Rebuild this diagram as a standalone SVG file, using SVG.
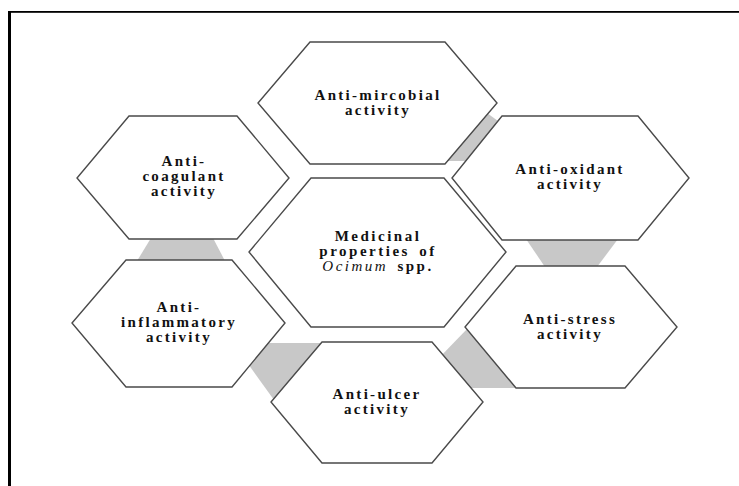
<svg xmlns="http://www.w3.org/2000/svg" width="739" height="486" viewBox="0 0 739 486">
<style>
.hex{fill:#ffffff;stroke:#4a4a4a;stroke-width:1.4;stroke-linejoin:miter}
.link{fill:#c8c8c8;stroke:none}
.lbl{font-family:"Liberation Serif","Times New Roman",serif;font-weight:bold;font-size:15px;letter-spacing:2.3px;fill:#111111;text-anchor:middle}
.ctr{letter-spacing:2.5px}
.it{font-style:italic;font-weight:normal}
</style>
<rect x="0" y="0" width="739" height="486" fill="#ffffff"/>
<g id="frame">
<rect x="8" y="11" width="731" height="1.8" fill="#000000"/>
<rect x="8" y="11" width="3" height="475" fill="#000000"/>
</g>
<g id="connectors">
<polygon class="link" points="478,113 487,113 498,121 467,161 440,161"/>
<polygon class="link" points="151,238 213,238 225,261 137,261"/>
<polygon class="link" points="526,239 618,239 597,267 545,267"/>
<polygon class="link" points="233,343 324,343 274,400"/>
<polygon class="link" points="468,328 437,360 460,388 517,388"/>
</g>
<g id="node-antimicrobial">
<polygon class="hex" points="310,42 445,42 497,103 445,164 310,164 258,103"/>
<text class="lbl" x="378" y="99.5">Anti-mircobial</text>
<text class="lbl" x="378" y="114.5">activity</text>
</g>
<g id="node-anticoagulant">
<polygon class="hex" points="129,116 237,116 289,178 237,239 129,239 77,178"/>
<text class="lbl" x="184" y="166">Anti-</text>
<text class="lbl" x="184" y="181">coagulant</text>
<text class="lbl" x="184" y="196">activity</text>
</g>
<g id="node-antioxidant">
<polygon class="hex" points="502,116 638,116 689,178 638,240 502,240 452,178"/>
<text class="lbl" x="570" y="173.5">Anti-oxidant</text>
<text class="lbl" x="570" y="188.5">activity</text>
</g>
<g id="node-center">
<polygon class="hex" points="311,178 444,178 506,252 444,327 311,327 249,252"/>
<text class="lbl ctr" x="378" y="241">Medicinal</text>
<text class="lbl ctr" x="378" y="256" word-spacing="3">properties of</text>
<text class="lbl ctr" x="378" y="271" word-spacing="3"><tspan class="it">Ocimum</tspan> spp.</text>
</g>
<g id="node-antiinflammatory">
<polygon class="hex" points="126,260 232,260 285,323 232,387 126,387 72,323"/>
<text class="lbl" x="179" y="311.5">Anti-</text>
<text class="lbl" x="179" y="326.5">inflammatory</text>
<text class="lbl" x="179" y="341.5">activity</text>
</g>
<g id="node-antistress">
<polygon class="hex" points="516,266 625,266 677,327 625,388 516,388 465,327"/>
<text class="lbl" x="570" y="323.5">Anti-stress</text>
<text class="lbl" x="570" y="338.5">activity</text>
</g>
<g id="node-antiulcer">
<polygon class="hex" points="322,342 432,342 483,402 432,463 322,463 271,402"/>
<text class="lbl" x="377" y="399">Anti-ulcer</text>
<text class="lbl" x="377" y="414">activity</text>
</g>
</svg>
